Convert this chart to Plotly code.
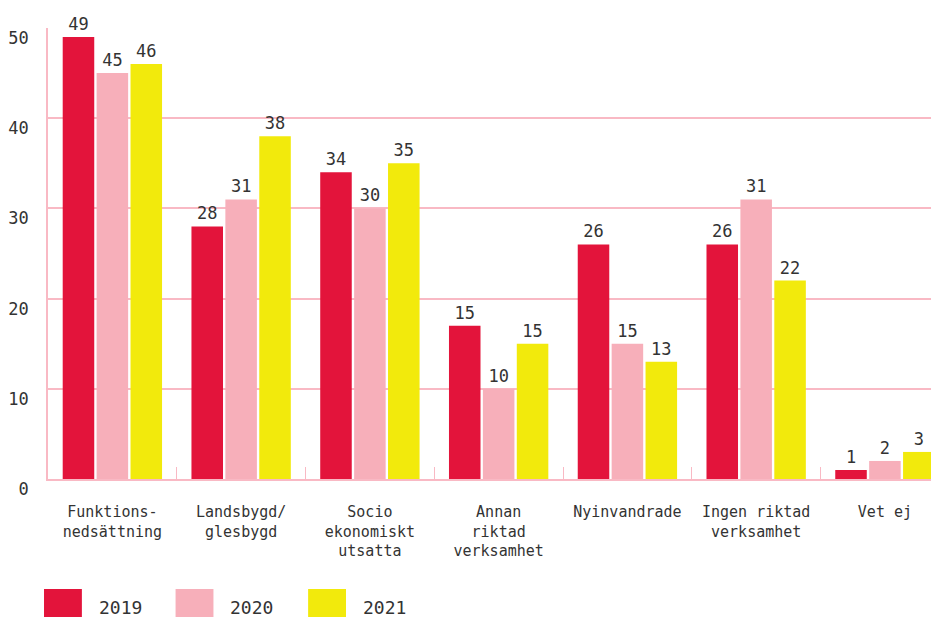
import plotly.graph_objects as go

categories = ["Funktions-<br>nedsättning", "Landsbygd/<br>glesbygd", "Socio<br>ekonomiskt<br>utsatta",
              "Annan<br>riktad<br>verksamhet", "Nyinvandrade", "Ingen riktad<br>verksamhet", "Vet ej"]
years = ["2019", "2020", "2021"]
v2019 = [49, 28, 34, 17, 26, 26, 1]
v2020 = [45, 31, 30, 10, 15, 31, 2]
v2021 = [46, 38, 35, 15, 13, 22, 3]
lbl2019 = ["49", "28", "34", "15", "26", "26", "1"]
lbl2020 = ["45", "31", "30", "10", "15", "31", "2"]
lbl2021 = ["46", "38", "35", "15", "13", "22", "3"]
colors = ["#E3143B", "#F7AFBA", "#F2EA0C"]
yticks = [0, 10, 20, 30, 40, 50]

FONT = "DejaVu Sans Mono"
TXT = "#333333"
PINK = "#F9B9C4"

OFF = 8  # page body margin
W, H = 939 - OFF, 617 - OFF
L, R, T, B = 45 - OFF, 0, 28 - OFF, 138
pw, ph = W - L - R, H - T - B
Y0 = 479 - OFF  # zero line in figure px

fig = go.Figure()
for name, vals, lbls, c in zip(years, [v2019, v2020, v2021], [lbl2019, lbl2020, lbl2021], colors):
    fig.add_trace(go.Bar(
        x=categories, y=vals, name=name, marker_color=c, marker_line_width=0,
        text=lbls, textposition="outside", cliponaxis=False,
        textfont=dict(family=FONT, size=17, color=TXT), showlegend=False,
    ))

fig.update_layout(
    width=W, height=H,
    margin=dict(l=L, r=R, t=T, b=B, pad=0),
    paper_bgcolor="white", plot_bgcolor="white",
    barmode="group", bargap=0.21, bargroupgap=0.07,
    font=dict(family=FONT, color=TXT),
    xaxis=dict(
        range=[-0.5, 6.42], showgrid=False, showline=True, linecolor=PINK, linewidth=2,
        ticks="inside", tickson="boundaries", ticklen=12, tickcolor=PINK, tickwidth=1,
        tickfont=dict(family=FONT, size=15, color=TXT), ticklabelstandoff=18,
        zeroline=False,
    ),
    yaxis=dict(
        range=[0, 50], tickvals=yticks, showgrid=True, gridcolor=PINK, gridwidth=2,
        showline=True, linecolor=PINK, linewidth=1.5, zeroline=False,
        tickfont=dict(family=FONT, size=17, color=TXT), ticks="", ticklabelstandoff=14,
        ticklabelshift=10,
    ),
)

# custom legend (page px -> figure px)
sq_x = [41, 173, 306]
for px, name, c in zip(sq_x, years, colors):
    fx = px - OFF
    x0 = (fx - L) / pw
    x1 = (fx + 38 - L) / pw
    y0 = (Y0 - (589 - OFF)) / ph
    y1 = (Y0 - (620 - OFF)) / ph
    fig.add_shape(type="rect", xref="paper", yref="paper", x0=x0, x1=x1, y0=y0, y1=y1,
                  fillcolor=c, line_width=0, layer="above")
    fig.add_annotation(xref="paper", yref="paper", x=(fx + 53 - L) / pw, y=(Y0 - (607 - OFF)) / ph,
                       text=name, showarrow=False, xanchor="left", yanchor="middle",
                       font=dict(family=FONT, size=18, color=TXT))

fig.write_html("out.html")
